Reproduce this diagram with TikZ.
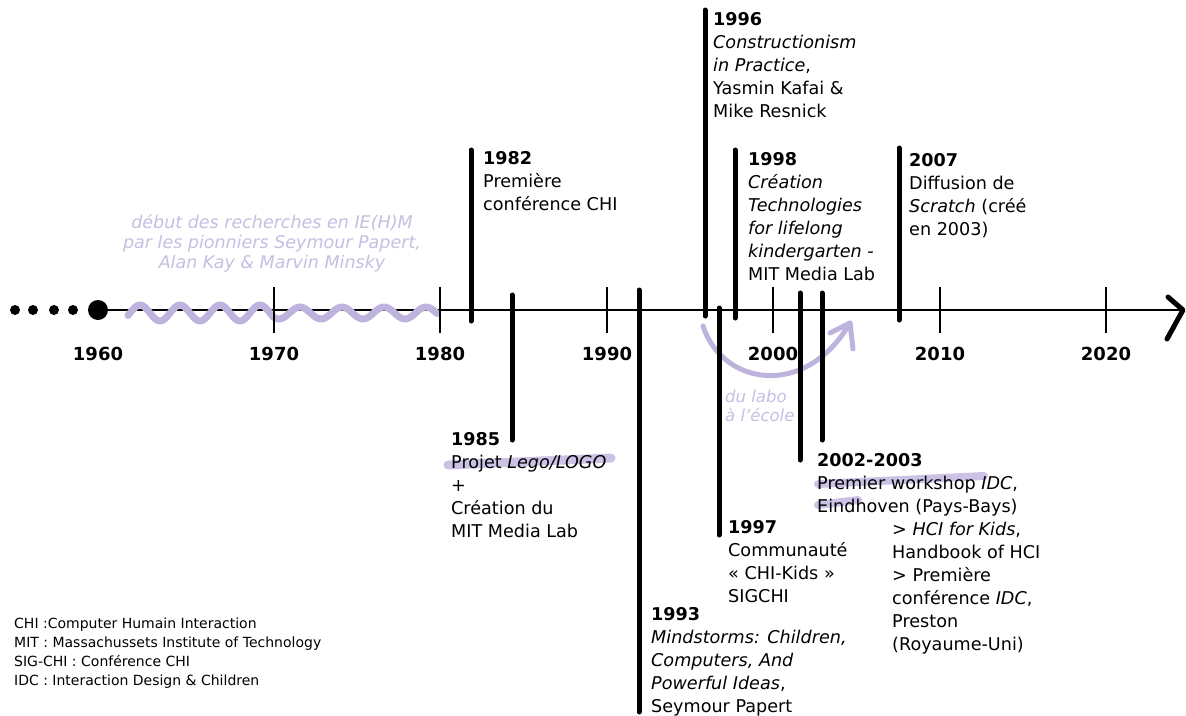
\documentclass[tikz,border=0pt]{standalone}
\usepackage{fontspec}
\setmainfont{DejaVu Sans}
\definecolor{lav}{HTML}{BDB3DC}
\definecolor{lavtext}{HTML}{C6BEE2}
\definecolor{lavhl}{HTML}{CBC2E6}
\begin{document}
\begin{tikzpicture}[x=1pt,y=-1pt,
  bar/.style={line width=5pt, line cap=round},
  tickline/.style={line width=1.8pt},
  yearlab/.style={font=\fontsize{18}{18}\selectfont\bfseries, anchor=center, inner sep=0pt},
  evt/.style={anchor=north west, inner sep=0pt, align=left, font=\fontsize{17.6}{23}\selectfont},
  lavnote/.style={inner sep=0pt, text=lavtext, font=\fontsize{17.5}{20}\selectfont\itshape},
  hl/.style={draw=lavhl, line width=9pt, line cap=round},
  wave/.style={draw=lav, line width=7pt, line cap=round, line join=round},
  labarrow/.style={draw=lav, line width=5pt, line cap=round, line join=round}
]
\useasboundingbox (0,0) rectangle (1186,715);
% axis
\coordinate (start) at (98,310);
\coordinate (tip) at (1183,310);
\draw[line width=1.8pt] (start) -- (tip);
\draw[line width=5pt, line cap=round, line join=round] (1168,297) -- (tip) -- (1167,339);
% dots
\fill (15,310) circle (5pt);
\fill (33,310) circle (5pt);
\fill (54,310) circle (5pt);
\fill (73,310) circle (5pt);
\fill (start) circle (10pt);
% wave
\draw[wave] plot[domain=128:274, samples=90, smooth] (\x, {313 - 8*sin(9*(\x-130))})
  -- plot[domain=274:437, samples=90, smooth] (\x, {313 - 6*sin(8.5714*(\x-289.5))});
% ticks
\foreach \xx/\nm in {274/t70, 440/t80, 607/t90, 773/t00, 940/t10, 1106/t20}{
  \coordinate (\nm a) at (\xx,287);
  \coordinate (\nm b) at (\xx,333);
  \draw[tickline] (\nm a) -- (\nm b);
}
% year labels
\node[yearlab] (y60) at (98,354) {1960};
\node[yearlab] (y70) at (274,354) {1970};
\node[yearlab] (y80) at (440,354) {1980};
\node[yearlab] (y90) at (607,354) {1990};
\node[yearlab] (y00) at (773,354) {2000};
\node[yearlab] (y10) at (940,354) {2010};
\node[yearlab] (y20) at (1106,354) {2020};
% curved arrow lab -> school
\coordinate (ca1) at (703,326);
\coordinate (ca2) at (850,323);
\draw[labarrow] (ca1) .. controls (722,385) and (805,400) .. (ca2);
\draw[labarrow] (830,333) -- (ca2) -- (853,349);
% highlights
\draw[hl] (448,465) -- (611,458);
\draw[hl, line width=8pt] (818,484) -- (984,476);
\draw[hl, line width=8pt] (818,505) -- (858,500);
% event bars
\coordinate (b82t) at (471,150); \coordinate (b82b) at (471,321);
\coordinate (b85t) at (512,295); \coordinate (b85b) at (512,440);
\coordinate (b93t) at (639,290); \coordinate (b93b) at (639,712);
\coordinate (b96t) at (705,10);  \coordinate (b96b) at (705,316);
\coordinate (b97t) at (719,308); \coordinate (b97b) at (719,535);
\coordinate (b98t) at (735,150); \coordinate (b98b) at (735,318);
\coordinate (b01t) at (800,293); \coordinate (b01b) at (800,460);
\coordinate (b02t) at (822,293); \coordinate (b02b) at (822,440);
\coordinate (b07t) at (899,148); \coordinate (b07b) at (899,320);
\foreach \b in {82,85,93,96,97,98,01,02,07}{
  \draw[bar] (b\b t) -- (b\b b);
}
% event texts
\node[evt] (e82) at (483,151) {\textbf{1982}\\Première\\conférence CHI};
\node[evt] (e96) at (713,12) {\textbf{1996}\\\textit{Constructionism}\\\textit{in Practice},\\Yasmin Kafai \&\\Mike Resnick};
\node[evt] (e98) at (748,152) {\textbf{1998}\\\textit{Création}\\\textit{Technologies}\\\textit{for lifelong}\\\textit{kindergarten -}\\MIT Media Lab};
\node[evt] (e07) at (909,153) {\textbf{2007}\\Diffusion de\\\textit{Scratch} (créé\\en 2003)};
\node[evt] (e85) at (451,432) {\textbf{1985}\\Projet \textit{Lego/LOGO}\\+\\Création du\\MIT Media Lab};
\node[evt] (e0203) at (817,453) {\textbf{2002-2003}\\Premier workshop \textit{IDC},\\Eindhoven (Pays-Bays)};
\node[evt] (ehci) at (892,522) {> \textit{HCI for Kids},\\Handbook of HCI\\> Première\\conférence \textit{IDC},\\Preston\\(Royaume-Uni)};
\node[evt] (e97) at (728,520) {\textbf{1997}\\Communauté\\« CHI-Kids »\\SIGCHI};
\node[evt] (e93) at (651,607) {\textbf{1993}\\\textit{Mindstorms: Children,}\\\textit{Computers, And}\\\textit{Powerful Ideas},\\Seymour Papert};
% lavender notes
\node[lavnote, align=center] (pion) at (272,243) {début des recherches en IE(H)M\\par les pionniers Seymour Papert,\\Alan Kay \& Marvin Minsky};
\node[lavnote, align=left, anchor=north west, font=\fontsize{16.5}{19}\selectfont\itshape] (labo) at (725,390) {du labo\\à l'école};
% legend
\node[anchor=north west, inner sep=0pt, align=left, font=\fontsize{14}{19}\selectfont] (leg) at (14,618) {CHI :Computer Humain Interaction\\MIT : Massachussets Institute of Technology\\SIG-CHI : Conférence CHI\\IDC : Interaction Design \& Children};
\end{tikzpicture}
\end{document}
